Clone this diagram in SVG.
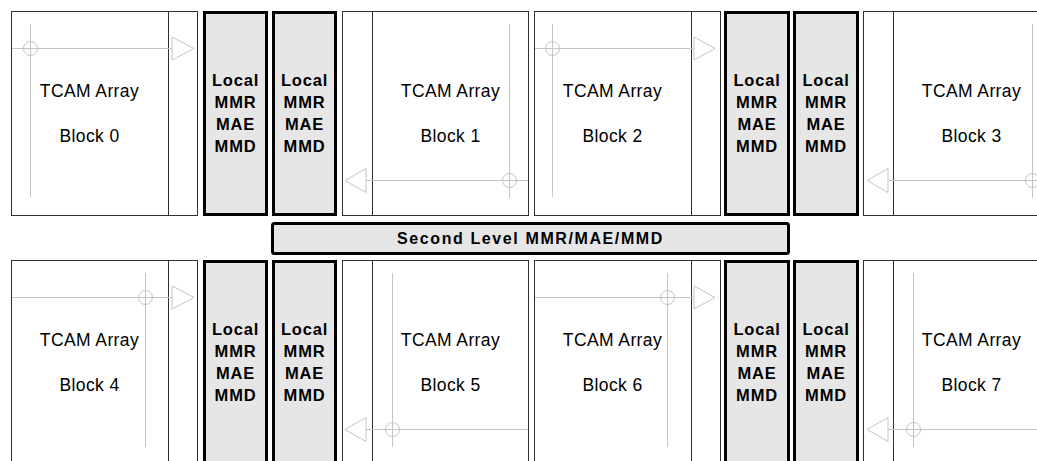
<svg xmlns="http://www.w3.org/2000/svg" width="1037" height="461" viewBox="0 0 1037 461">
<style>
.blk{fill:#fff;stroke:#303030;stroke-width:1}
.div{stroke:#303030;stroke-width:1}
.loc{fill:#e6e6e6;stroke:#000;stroke-width:3}
.g{stroke:#c4c4c4;stroke-width:1;fill:none}
.arr{stroke:#c4c4c4;stroke-width:1;fill:#fff}
.t{font-family:"Liberation Sans",Arial,sans-serif;font-size:17.5px;letter-spacing:0.4px;fill:#000;text-anchor:middle}
.b{font-family:"Liberation Sans",Arial,sans-serif;font-size:16.5px;font-weight:bold;letter-spacing:0.8px;fill:#000;text-anchor:middle}
.s{font-family:"Liberation Sans",Arial,sans-serif;font-size:16px;font-weight:bold;letter-spacing:1.6px;fill:#000;text-anchor:middle}
</style>
<defs>
<g id="loctext">
<text class="b" x="0" y="0">Local</text>
<text class="b" x="0" y="22">MMR</text>
<text class="b" x="0" y="44">MAE</text>
<text class="b" x="0" y="66">MMD</text>
</g>
</defs>
<g id="block0"><rect class="blk" x="11.5" y="11.5" width="186" height="204"/><line class="div" x1="168.5" y1="11.5" x2="168.5" y2="215.5"/><text class="t" x="89.5" y="97">TCAM Array</text><text class="t" x="89.5" y="142">Block 0</text></g>
<g id="block1"><rect class="blk" x="342.5" y="11.5" width="186" height="204"/><line class="div" x1="372.5" y1="11.5" x2="372.5" y2="215.5"/><text class="t" x="450.5" y="97">TCAM Array</text><text class="t" x="450.5" y="142">Block 1</text></g>
<g id="block2"><rect class="blk" x="534.5" y="11.5" width="186" height="204"/><line class="div" x1="691.5" y1="11.5" x2="691.5" y2="215.5"/><text class="t" x="612.5" y="97">TCAM Array</text><text class="t" x="612.5" y="142">Block 2</text></g>
<g id="block3"><rect class="blk" x="863.5" y="11.5" width="186" height="204"/><line class="div" x1="893.5" y1="11.5" x2="893.5" y2="215.5"/><text class="t" x="971.5" y="97">TCAM Array</text><text class="t" x="971.5" y="142">Block 3</text></g>
<g id="block4"><rect class="blk" x="11.5" y="260.5" width="186" height="210"/><line class="div" x1="168.5" y1="260.5" x2="168.5" y2="470"/><text class="t" x="89.5" y="346">TCAM Array</text><text class="t" x="89.5" y="391">Block 4</text></g>
<g id="block5"><rect class="blk" x="342.5" y="260.5" width="186" height="210"/><line class="div" x1="372.5" y1="260.5" x2="372.5" y2="470"/><text class="t" x="450.5" y="346">TCAM Array</text><text class="t" x="450.5" y="391">Block 5</text></g>
<g id="block6"><rect class="blk" x="534.5" y="260.5" width="186" height="210"/><line class="div" x1="691.5" y1="260.5" x2="691.5" y2="470"/><text class="t" x="612.5" y="346">TCAM Array</text><text class="t" x="612.5" y="391">Block 6</text></g>
<g id="block7"><rect class="blk" x="863.5" y="260.5" width="186" height="210"/><line class="div" x1="893.5" y1="260.5" x2="893.5" y2="470"/><text class="t" x="971.5" y="346">TCAM Array</text><text class="t" x="971.5" y="391">Block 7</text></g>
<g id="local0"><rect class="loc" x="204.5" y="12.5" width="62" height="202"/><use href="#loctext" x="235.5" y="86"/></g>
<g id="local1"><rect class="loc" x="273.5" y="12.5" width="62" height="202"/><use href="#loctext" x="304.5" y="86"/></g>
<g id="local2"><rect class="loc" x="725.5" y="12.5" width="63" height="202"/><use href="#loctext" x="757" y="86"/></g>
<g id="local3"><rect class="loc" x="794.5" y="12.5" width="63" height="202"/><use href="#loctext" x="826" y="86"/></g>
<g id="local4"><rect class="loc" x="204.5" y="261.5" width="62" height="210"/><use href="#loctext" x="235.5" y="335"/></g>
<g id="local5"><rect class="loc" x="273.5" y="261.5" width="62" height="210"/><use href="#loctext" x="304.5" y="335"/></g>
<g id="local6"><rect class="loc" x="725.5" y="261.5" width="63" height="210"/><use href="#loctext" x="757" y="335"/></g>
<g id="local7"><rect class="loc" x="794.5" y="261.5" width="63" height="210"/><use href="#loctext" x="826" y="335"/></g>
<g id="second"><rect class="loc" x="272.5" y="223.5" width="516" height="30" rx="2"/><text class="s" x="530.5" y="244">Second Level MMR/MAE/MMD</text></g>
<g id="connectors">
<line class="g" x1="30.5" y1="24" x2="30.5" y2="197"/><line class="g" x1="12" y1="48.5" x2="172" y2="48.5"/><circle class="g" cx="30.5" cy="48.5" r="7"/><polygon class="arr" points="172,37 172,60 194,48.5"/>
<line class="g" x1="509.5" y1="24" x2="509.5" y2="198"/><line class="g" x1="366" y1="180.5" x2="528" y2="180.5"/><circle class="g" cx="509.5" cy="180.5" r="7"/><polygon class="arr" points="366,168.5 366,192.5 345,180.5"/>
<line class="g" x1="552.5" y1="24" x2="552.5" y2="197"/><line class="g" x1="535" y1="48.5" x2="694" y2="48.5"/><circle class="g" cx="552.5" cy="48.5" r="7"/><polygon class="arr" points="694,37 694,60 715,48.5"/>
<line class="g" x1="1032.5" y1="24" x2="1032.5" y2="198"/><line class="g" x1="888" y1="180.5" x2="1040" y2="180.5"/><circle class="g" cx="1032.5" cy="180.5" r="7"/><polygon class="arr" points="888,168.5 888,192.5 867,180.5"/>
<line class="g" x1="145.5" y1="273" x2="145.5" y2="447"/><line class="g" x1="12" y1="297.5" x2="172" y2="297.5"/><circle class="g" cx="145.5" cy="297.5" r="7"/><polygon class="arr" points="172,286 172,309 194,297.5"/>
<line class="g" x1="392.5" y1="273" x2="392.5" y2="447"/><line class="g" x1="366" y1="429.5" x2="528" y2="429.5"/><circle class="g" cx="392.5" cy="429.5" r="7"/><polygon class="arr" points="366,417.5 366,441.5 345,429.5"/>
<line class="g" x1="667.5" y1="273" x2="667.5" y2="447"/><line class="g" x1="535" y1="297.5" x2="694" y2="297.5"/><circle class="g" cx="667.5" cy="297.5" r="7"/><polygon class="arr" points="694,286 694,309 715,297.5"/>
<line class="g" x1="913.5" y1="273" x2="913.5" y2="447"/><line class="g" x1="888" y1="429.5" x2="1040" y2="429.5"/><circle class="g" cx="913.5" cy="429.5" r="7"/><polygon class="arr" points="888,417.5 888,441.5 867,429.5"/>
</g>
</svg>
